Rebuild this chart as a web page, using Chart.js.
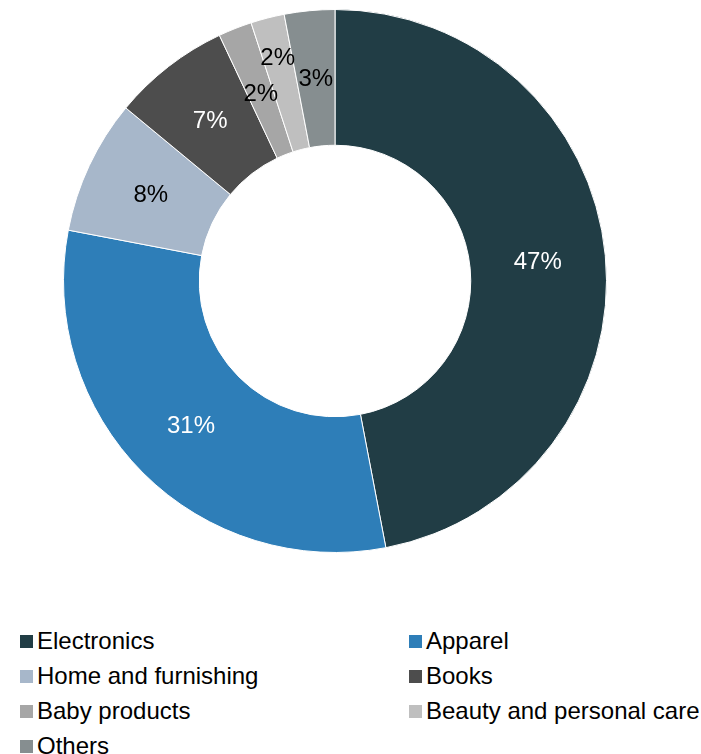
<!DOCTYPE html>
<html>
<head>
<meta charset="utf-8">
<script src="https://cdn.jsdelivr.net/npm/chart.js@4/dist/chart.umd.min.js"></script>
<style>
  body { margin: 0; background: #fff; width: 701px; height: 754px; position: relative; overflow: hidden; font-family: "Liberation Sans", Arial, sans-serif; }
  #wrap { position: absolute; left: 63px; top: 9px; width: 544px; height: 544px; }
  #legend { position: absolute; left: 20px; top: 624px; width: 690px; }
  .item { position: absolute; font-size: 24px; color: #000; white-space: nowrap; line-height: 34px; }
  .item span.box { position: absolute; left: 0; top: 11px; width: 13px; height: 13px; }
  .item span.txt { position: absolute; left: 17px; top: 0; }
</style>
</head>
<body>
<div id="wrap"><canvas id="pie" width="544" height="544"></canvas></div>
<div id="legend"></div>
<script>
// 카테고리와 비중(%)
const categories = ['Electronics', 'Apparel', 'Home and furnishing', 'Books', 'Baby products', 'Beauty and personal care', 'Others'];
const shares = [47, 31, 8, 7, 2, 2, 3];
const pctLabels = ['47%', '31%', '8%', '7%', '2%', '2%', '3%'];

// 색상
const colors = ['#213d45', '#2e7eb8', '#a7b7ca', '#4d4d4d', '#a6a6a6', '#bfbfbf', '#868e90'];
const labelColors = ['#fff', '#fff', '#000', '#fff', '#000', '#000', '#000'];
// 라벨 반지름 보정 (px) - 좁은 조각 겹침 방지
const labelPush = [0, 0, 0, 0, -2, 27, 0];

// 조각 위 퍼센트 라벨
const sliceLabels = {
    id: 'sliceLabels',
    afterDatasetsDraw(chart) {
        const ctx = chart.ctx;
        const meta = chart.getDatasetMeta(0);
        ctx.save();
        ctx.font = '24px "Liberation Sans", Arial, sans-serif';
        ctx.textAlign = 'center';
        ctx.textBaseline = 'middle';
        meta.data.forEach((arc, i) => {
            const p = arc.getProps(['x', 'y', 'startAngle', 'endAngle', 'innerRadius', 'outerRadius'], true);
            const a = (p.startAngle + p.endAngle) / 2;
            const r = (p.innerRadius + p.outerRadius) / 2 + labelPush[i];
            ctx.fillStyle = labelColors[i];
            ctx.fillText(pctLabels[i], p.x + Math.cos(a) * r, p.y + Math.sin(a) * r + 1);
        });
        ctx.restore();
    }
};

new Chart(document.getElementById('pie').getContext('2d'), {
    type: 'doughnut',
    data: {
        labels: categories,
        datasets: [{
            data: shares,
            backgroundColor: colors,
            borderColor: '#ffffff',
            borderWidth: 1
        }]
    },
    options: {
        responsive: false,
        animation: false,
        cutout: '50%',
        layout: { padding: 0 },
        plugins: {
            legend: { display: false },
            tooltip: { enabled: false }
        }
    },
    plugins: [sliceLabels]
});

// 범례 (2열)
const legend = document.getElementById('legend');
categories.forEach((name, i) => {
    const div = document.createElement('div');
    div.className = 'item';
    div.style.left = (i % 2 === 0 ? 0 : 389) + 'px';
    div.style.top = (Math.floor(i / 2) * 35) + 'px';
    div.innerHTML = '<span class="box" style="background:' + colors[i] + '"></span><span class="txt">' + name + '</span>';
    legend.appendChild(div);
});
</script>
</body>
</html>
